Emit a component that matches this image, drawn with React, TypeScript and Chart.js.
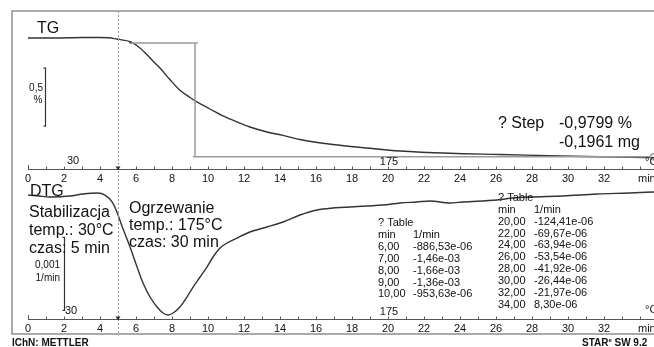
import React, { useEffect, useRef } from "react";
import { Chart, registerables } from "chart.js";

Chart.register(...registerables);

// ---------- data ----------
const tgTime = [0, 1.5, 3.0, 4.0, 4.5, 4.94, 5.3, 5.67, 6.22, 6.78, 7.33, 7.89, 8.44, 9.0, 9.39, 10.11, 10.83, 11.61, 12.33, 13.28, 14.17, 15.11, 16.94, 18.83, 20.67, 23.44, 26.22, 29.56, 31.78, 34.28, 34.78];
const tgPercent = [100.0, 100.0, 100.004, 100.004, 100.002, 99.991, 99.982, 99.968, 99.914, 99.828, 99.741, 99.64, 99.55, 99.487, 99.449, 99.388, 99.328, 99.276, 99.233, 99.19, 99.16, 99.125, 99.082, 99.052, 99.026, 99.006, 98.996, 98.983, 98.976, 98.97, 98.968];

const dtgTime = [0, 0.6, 1.22, 2.33, 3.06, 3.83, 4.28, 4.67, 4.94, 5.22, 5.67, 6.06, 6.39, 6.78, 7.17, 7.5, 7.78, 8.06, 8.44, 8.83, 9.17, 9.56, 9.94, 10.28, 10.67, 11.06, 11.61, 12.33, 13.28, 14.17, 15.11, 16.06, 16.94, 17.89, 18.83, 19.72, 20.67, 21.61, 22.33, 23.44, 24.17, 26.06, 26.94, 27.89, 29.72, 31.61, 33.44, 34.78];
const dtgValue = [-0.021e-3, -0.035e-3, -0.048e-3, -0.034e-3, -0.007e-3, 0.007e-3, -0.021e-3, -0.116e-3, -0.253e-3, -0.445e-3, -0.733e-3, -1.007e-3, -1.226e-3, -1.418e-3, -1.555e-3, -1.637e-3, -1.664e-3, -1.637e-3, -1.555e-3, -1.418e-3, -1.281e-3, -1.144e-3, -1.007e-3, -0.87e-3, -0.747e-3, -0.678e-3, -0.61e-3, -0.527e-3, -0.459e-3, -0.39e-3, -0.295e-3, -0.226e-3, -0.199e-3, -0.185e-3, -0.171e-3, -0.158e-3, -0.13e-3, -0.116e-3, -0.103e-3, -0.13e-3, -0.116e-3, -0.089e-3, -0.062e-3, -0.048e-3, -0.034e-3, -0.007e-3, 0.007e-3, 0.021e-3];

const tickValues = [0, 2, 4, 6, 8, 10, 12, 14, 16, 18, 20, 22, 24, 26, 28, 30, 32];
const tickLabels = ["0", "2", "4", "6", "8", "10", "12", "14", "16", "18", "20", "22", "24", "26", "28", "30", "32"];
const minorTickValues = [0, 1, 2, 3, 4, 5, 6, 7, 8, 9, 10, 11, 12, 13, 14, 15, 16, 17, 18, 19, 20, 21, 22, 23, 24, 25, 26, 27, 28, 29, 30, 31, 32, 33, 34];
const unitTickValue = 34;
const segmentBoundary = 5; // min
const tempLabelTimes = [2.5, 20];
const tempLabels = ["30", "175"];

// step evaluation (TG)
const stepStartTime = 5.67;
const stepTopEndTime = 9.44;
const stepVerticalTime = 9.28;
const stepBottomStartTime = 9.17;
const stepBottomEndTime = 34.6;
const stepTopValue = 99.957;
const stepBottomValue = 98.977;
const stepTexts = ["? Step", "-0,9799 %", "-0,1961 mg"];

// scale bars
const tgBarTop = 99.74;
const tgBarSize = 0.5;
const dtgBarTop = -0.6e-3;
const dtgBarSize = 0.001;

// tables
const tableLeftTimes = ["6,00", "7,00", "8,00", "9,00", "10,00"];
const tableLeftValues = ["-886,53e-06", "-1,46e-03", "-1,66e-03", "-1,36e-03", "-953,63e-06"];
const tableRightTimes = ["20,00", "22,00", "24,00", "26,00", "28,00", "30,00", "32,00", "34,00"];
const tableRightValues = ["-124,41e-06", "-69,67e-06", "-63,94e-06", "-53,54e-06", "-41,92e-06", "-26,44e-06", "-21,97e-06", "8,30e-06"];

// ---------- layout constants ----------
const W = 654;
const H = 347;
const FRAME_LEFT = 12;
const FRAME_TOP = 11;
const FRAME_BOTTOM = 334;
const AXIS_TOP_Y = 169;
const AXIS_BOTTOM_Y = 319;
const FONT = '"Liberation Sans", Arial, sans-serif';

const annotPlugin = {
  id: "annot",
  afterDatasetsDraw(chart: any) {
    const ctx: CanvasRenderingContext2D = chart.ctx;
    const xs = chart.scales.x;
    const yT = chart.scales.yTG;
    const yD = chart.scales.yDTG;
    const px = (t: number) => xs.getPixelForValue(t);
    ctx.save();

    // frame
    ctx.strokeStyle = "#8e8e8e";
    ctx.lineWidth = 1.5;
    ctx.setLineDash([]);
    ctx.beginPath();
    ctx.moveTo(W + 5, FRAME_TOP);
    ctx.lineTo(FRAME_LEFT, FRAME_TOP);
    ctx.lineTo(FRAME_LEFT, FRAME_BOTTOM);
    ctx.lineTo(W + 5, FRAME_BOTTOM);
    ctx.stroke();

    // dashed segment boundary
    ctx.strokeStyle = "#9a9a9a";
    ctx.lineWidth = 1;
    ctx.setLineDash([2, 2]);
    ctx.beginPath();
    ctx.moveTo(Math.round(px(segmentBoundary)) + 0.5, FRAME_TOP);
    ctx.lineTo(Math.round(px(segmentBoundary)) + 0.5, FRAME_BOTTOM);
    ctx.stroke();
    ctx.setLineDash([]);

    // step lines
    ctx.strokeStyle = "#9a9a9a";
    ctx.lineWidth = 1.5;
    ctx.beginPath();
    ctx.moveTo(px(stepStartTime), yT.getPixelForValue(stepTopValue));
    ctx.lineTo(px(stepTopEndTime), yT.getPixelForValue(stepTopValue));
    ctx.moveTo(px(stepVerticalTime), yT.getPixelForValue(stepTopValue));
    ctx.lineTo(px(stepVerticalTime), yT.getPixelForValue(stepBottomValue));
    ctx.moveTo(px(stepBottomStartTime), yT.getPixelForValue(stepBottomValue));
    ctx.lineTo(px(stepBottomEndTime), yT.getPixelForValue(stepBottomValue));
    ctx.stroke();
    ctx.beginPath();
    ctx.arc(px(stepBottomEndTime) + 3, yT.getPixelForValue(stepBottomValue), 3, 0, Math.PI * 2);
    ctx.stroke();
    // start marker
    ctx.fillStyle = "#444";
    ctx.beginPath();
    const sx = px(stepStartTime);
    const sy = yT.getPixelForValue(stepTopValue);
    ctx.moveTo(sx - 2, sy - 2);
    ctx.lineTo(sx + 2, sy - 2);
    ctx.lineTo(sx, sy + 1);
    ctx.fill();

    // time axes
    [AXIS_TOP_Y, AXIS_BOTTOM_Y].forEach((ay) => {
      ctx.strokeStyle = "#555";
      ctx.lineWidth = 1;
      ctx.beginPath();
      ctx.moveTo(px(0), ay + 0.5);
      ctx.lineTo(W, ay + 0.5);
      minorTickValues.forEach((v) => {
        const xx = Math.round(px(v)) + 0.5;
        ctx.moveTo(xx, ay);
        ctx.lineTo(xx, ay - (v === 0 ? 4 : 2.5));
      });
      ctx.stroke();
      // segment marker
      ctx.fillStyle = "#333";
      const mx = px(segmentBoundary);
      ctx.beginPath();
      ctx.moveTo(mx - 2.5, ay - 2.5);
      ctx.lineTo(mx + 2.5, ay - 2.5);
      ctx.lineTo(mx, ay + 1.5);
      ctx.closePath();
      ctx.fill();
      // labels
      ctx.fillStyle = "#111";
      ctx.font = `11px ${FONT}`;
      ctx.textAlign = "center";
      ctx.textBaseline = "alphabetic";
      tickValues.forEach((v, i) => {
        ctx.fillText(tickLabels[i], px(v), ay + 13);
      });
      ctx.textAlign = "left";
      ctx.fillText("min", px(unitTickValue) - 2, ay + 13);
    });

    // temperature labels
    ctx.fillStyle = "#111";
    ctx.font = `11px ${FONT}`;
    ctx.textAlign = "center";
    ctx.fillText(tempLabels[0], px(tempLabelTimes[0]) + 0, 164);
    ctx.fillText(tempLabels[1], px(tempLabelTimes[1]) + 1, 165);
    ctx.fillText(tempLabels[0], px(tempLabelTimes[0]) - 2, 314);
    ctx.fillText(tempLabels[1], px(tempLabelTimes[1]) + 1, 315);
    ctx.textAlign = "left";
    ctx.fillText("°C", 645, 165);
    ctx.fillText("°C", 645, 313);

    // TG scale bar
    ctx.strokeStyle = "#333";
    ctx.lineWidth = 1.2;
    const bx = 45.5;
    const bt = yT.getPixelForValue(tgBarTop);
    const bb = yT.getPixelForValue(tgBarTop - tgBarSize);
    ctx.beginPath();
    ctx.moveTo(bx - 2, bt);
    ctx.lineTo(bx, bt);
    ctx.lineTo(bx, bb);
    ctx.lineTo(bx - 2, bb);
    ctx.stroke();
    ctx.font = `10px ${FONT}`;
    ctx.textAlign = "right";
    ctx.fillText("0,5", 43, 91);
    ctx.textAlign = "center";
    ctx.fillText("%", 38, 103);

    // DTG scale bar
    const dx = 64.5;
    const dt = yD.getPixelForValue(dtgBarTop);
    const db = yD.getPixelForValue(dtgBarTop - dtgBarSize);
    ctx.beginPath();
    ctx.moveTo(dx - 2, dt);
    ctx.lineTo(dx, dt);
    ctx.lineTo(dx, db);
    ctx.lineTo(dx - 2, db);
    ctx.stroke();
    ctx.textAlign = "right";
    ctx.fillText("0,001", 60, 268);
    ctx.fillText("1/min", 60, 281);

    // panel titles
    ctx.fillStyle = "#111";
    ctx.textAlign = "left";
    ctx.font = `16px ${FONT}`;
    ctx.fillText("TG", 37, 33);
    ctx.fillText("DTG", 30, 196);

    // segment texts
    ctx.fillText("Stabilizacja", 29, 217);
    ctx.fillText("temp.: 30°C", 29, 235);
    ctx.fillText("czas: 5 min", 29, 253);
    ctx.fillText("Ogrzewanie", 129, 213);
    ctx.fillText("temp.: 175°C", 129, 230);
    ctx.fillText("czas: 30 min", 129, 247);

    // step texts
    ctx.fillText(stepTexts[0], 498, 128);
    ctx.fillText(stepTexts[1], 559, 128);
    ctx.fillText(stepTexts[2], 559, 147);

    // tables
    ctx.font = `11px ${FONT}`;
    const lh = 11.9;
    ctx.fillText("? Table", 378, 226);
    ctx.fillText("min", 378, 226 + lh);
    ctx.fillText("1/min", 413, 226 + lh);
    tableLeftTimes.forEach((t, i) => {
      ctx.fillText(t, 378, 226 + lh * (i + 2));
      ctx.fillText(tableLeftValues[i], 413, 226 + lh * (i + 2));
    });
    const lh2 = 11.85;
    ctx.fillText("? Table", 498, 201);
    ctx.fillText("min", 498, 201 + lh2);
    ctx.fillText("1/min", 534, 201 + lh2);
    tableRightTimes.forEach((t, i) => {
      ctx.fillText(t, 498, 201 + lh2 * (i + 2));
      ctx.fillText(tableRightValues[i], 534, 201 + lh2 * (i + 2));
    });

    // footer
    ctx.font = `bold 10px ${FONT}`;
    ctx.fillText("IChN: METTLER", 12, 346);
    ctx.fillText("STAR", 582, 346);
    const sw = ctx.measureText("STAR").width;
    ctx.font = `bold 6px ${FONT}`;
    ctx.fillText("e", 582 + sw, 342);
    ctx.font = `bold 10px ${FONT}`;
    ctx.fillText("SW 9.2", 582 + sw + 6, 346);

    ctx.restore();
  },
};

export default function App() {
  const ref = useRef<HTMLCanvasElement | null>(null);
  useEffect(() => {
    if (!ref.current) return;
    const pxPerPercent = 116;
    const tgZeroPx = 38; // pixel of 100 %
    const tgMax = 100 + tgZeroPx / pxPerPercent;
    const tgMin = tgMax - H / pxPerPercent;
    const pxPerUnit = 73000;
    const dtgZeroPx = 193.5;
    const dtgMax = dtgZeroPx / pxPerUnit;
    const dtgMin = dtgMax - H / pxPerUnit;
    const chart = new Chart(ref.current, {
      type: "line",
      data: {
        datasets: [
          {
            label: "TG",
            data: tgTime.map((t, i) => ({ x: t, y: tgPercent[i] })),
            yAxisID: "yTG",
            borderColor: "#333",
            borderWidth: 1.4,
            pointRadius: 0,
            cubicInterpolationMode: "monotone",
            fill: false,
          },
          {
            label: "DTG",
            data: dtgTime.map((t, i) => ({ x: t, y: dtgValue[i] })),
            yAxisID: "yDTG",
            borderColor: "#333",
            borderWidth: 1.4,
            pointRadius: 0,
            cubicInterpolationMode: "monotone",
            fill: false,
          },
        ],
      },
      options: {
        animation: false,
        responsive: true,
        maintainAspectRatio: false,
        devicePixelRatio: 1,
        layout: { padding: { left: 28, right: 0, top: 0, bottom: 0 } },
        plugins: { legend: { display: false }, tooltip: { enabled: false } },
        events: [],
        scales: {
          x: { type: "linear", min: 0, max: 626 / 18, display: false },
          yTG: { type: "linear", min: tgMin, max: tgMax, display: false },
          yDTG: { type: "linear", min: dtgMin, max: dtgMax, display: false },
        },
      },
      plugins: [annotPlugin],
    });
    return () => chart.destroy();
  }, []);
  return (
    <div style={{ position: "fixed", left: 0, top: 0, width: W, height: H, background: "#fff" }}>
      <canvas ref={ref} />
    </div>
  );
}
